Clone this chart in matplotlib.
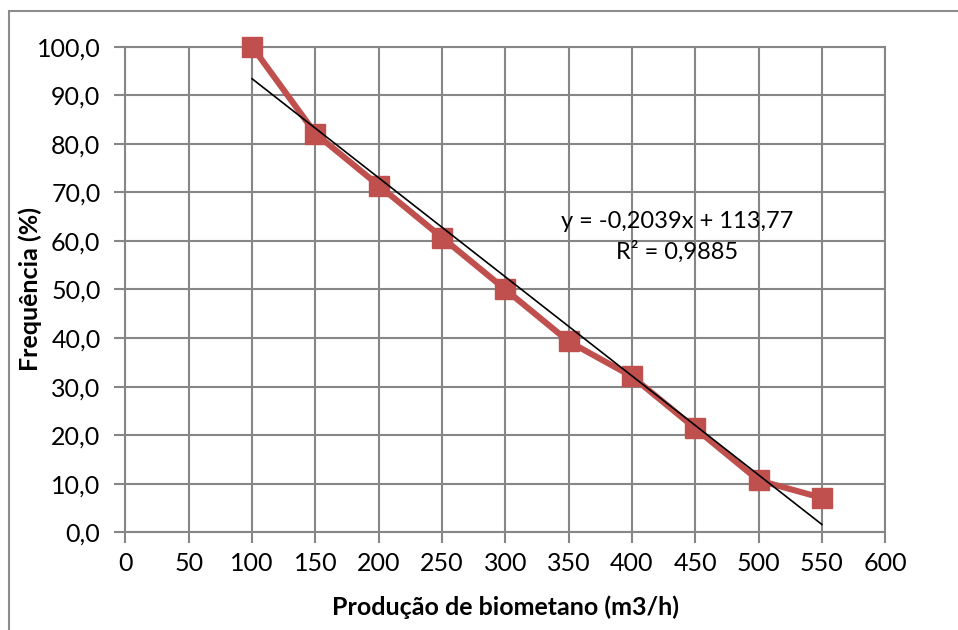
import numpy as np
import matplotlib.pyplot as plt
from matplotlib.patches import Rectangle
from matplotlib.ticker import FuncFormatter

# Frequência acumulada por faixa de produção de biometano
producao = [100, 150, 200, 250, 300, 350, 400, 450, 500, 550]
frequencia = [100.0, 82.1, 71.4, 60.7, 50.0, 39.3, 32.1, 21.4, 10.7, 7.1]

# Linha de tendência linear (coeficientes do ajuste)
slope = -0.2039
intercept = 113.77
r2 = 0.9885

xticks = list(range(0, 601, 50))
yticks = list(range(0, 101, 10))

plt.rcParams['font.family'] = ['Lato', 'DejaVu Sans']
grid_color = '#868686'

fig = plt.figure(figsize=(9.58, 6.30), dpi=100)
ax = fig.add_axes([0.131, 0.155, 0.793, 0.771])

# moldura externa do gráfico
fig.patches.append(Rectangle((0.0094, -0.05), 1.2, 0.0325 + 1.0, transform=fig.transFigure,
                             fill=False, edgecolor='#8c8c8c', linewidth=1.5))

ax.plot(producao, frequencia, color='#C0504D', linewidth=4.4, marker='s',
        markersize=14, zorder=3, solid_joinstyle='round', clip_on=False)

xt = np.array([producao[0], producao[-1]])
ax.plot(xt, slope * xt + intercept, color='black', linewidth=1.2, zorder=4)

eq = 'y = {:.4f}x + {:.2f}'.format(slope, intercept).replace('.', ',')
ax.text(436, 63.9, eq, ha='center', va='center', fontsize=17, zorder=5)
ax.text(436, 57.7, 'R² = {:.4f}'.format(r2).replace('.', ','), ha='center',
        va='center', fontsize=17, zorder=5)

ax.set_xlim(0, 600)
ax.set_ylim(0, 100)
ax.set_xticks(xticks)
ax.set_yticks(yticks)
ax.yaxis.set_major_formatter(FuncFormatter(lambda v, p: '{:.1f}'.format(v).replace('.', ',')))
ax.grid(True, color=grid_color, linewidth=1.5)
ax.set_axisbelow(True)
for s in ax.spines.values():
    s.set_color(grid_color)
    s.set_linewidth(1.5)
ax.tick_params(length=8, width=1.5, color=grid_color, labelsize=18, pad=6)
ax.tick_params(axis='y', pad=10)

ax.set_xlabel('Produção de biometano (m3/h)', fontsize=18, fontweight='bold', va='center')
ax.set_ylabel('Frequência (%)', fontsize=18, fontweight='bold', va='center')
ax.xaxis.set_label_coords(0.5, -0.154)
ax.yaxis.set_label_coords(-0.126, 0.5)

fig.savefig('out.png', dpi=100)
